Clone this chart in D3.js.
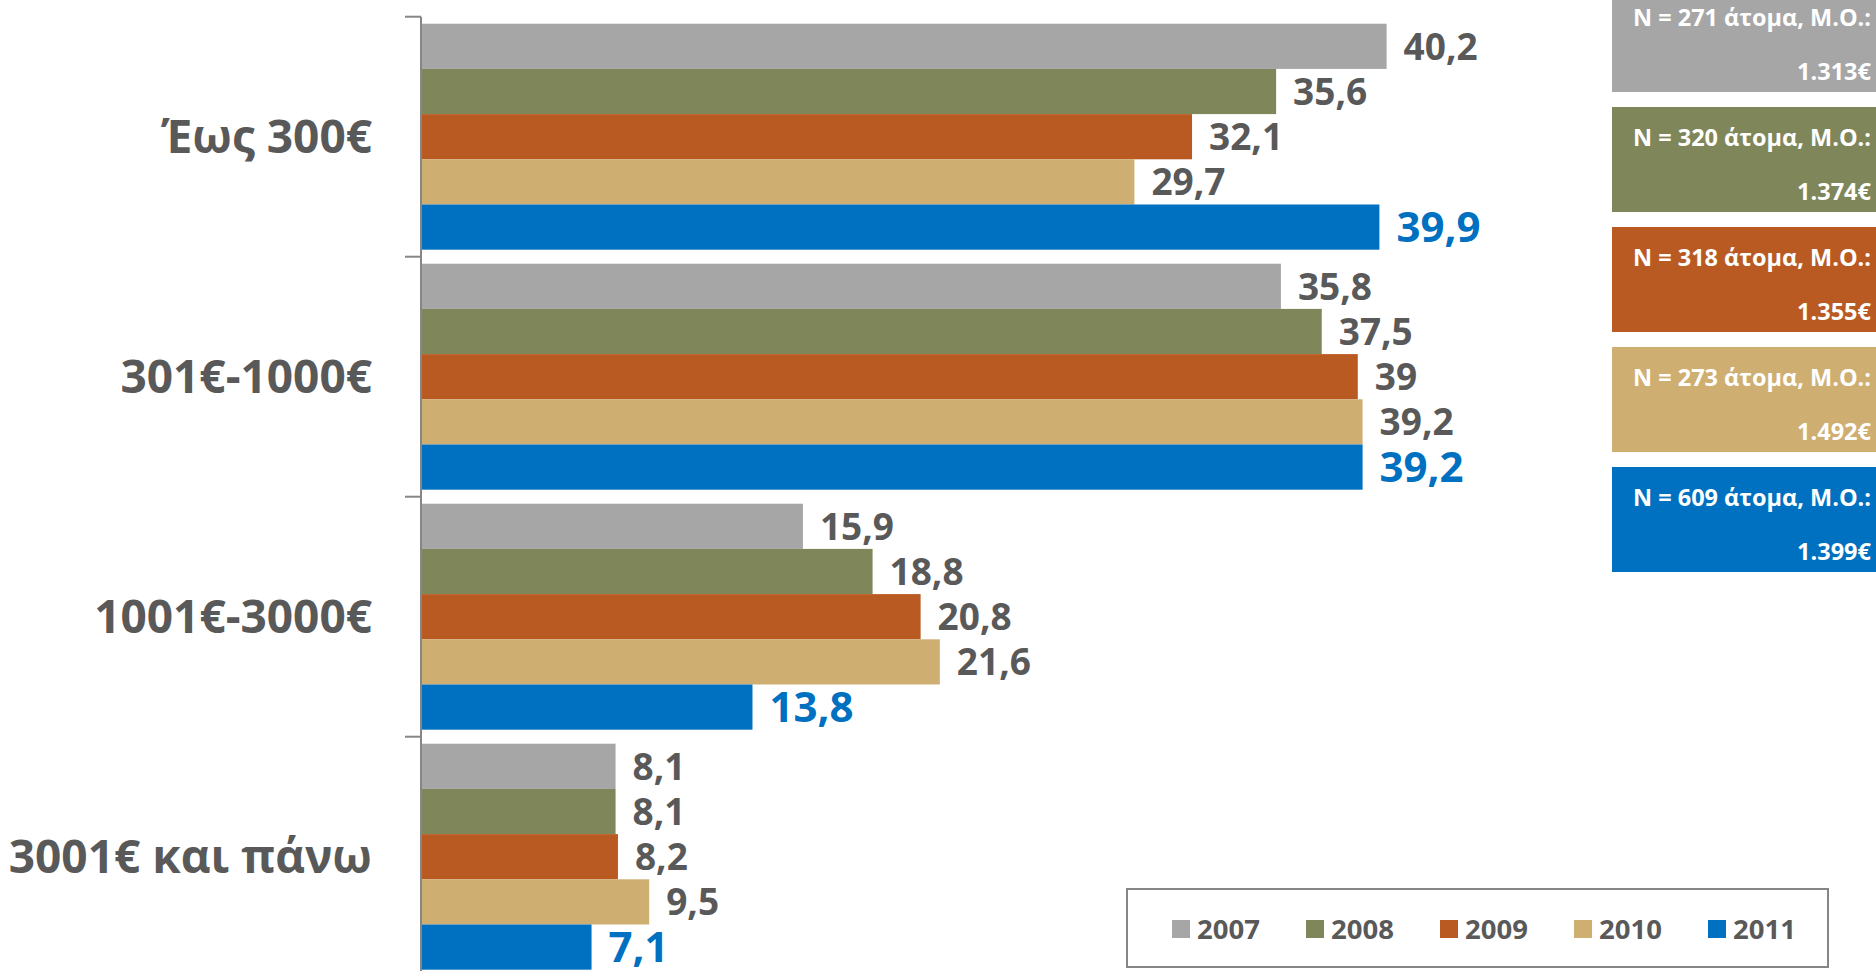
<!DOCTYPE html>
<html>
<head>
<meta charset="utf-8">
<script src="https://cdnjs.cloudflare.com/ajax/libs/d3/7.8.5/d3.min.js"></script>
<style>
  html, body { margin: 0; padding: 0; background: #fff; }
  #chart { width: 1876px; height: 971px; overflow: hidden; }
</style>
</head>
<body>
<div id="chart"></div>
<script>
var categories = ['Έως 300€', '301€-1000€', '1001€-3000€', '3001€ και πάνω'];
var years = ['2007', '2008', '2009', '2010', '2011'];
var values2007 = [40.2, 35.8, 15.9, 8.1];
var values2008 = [35.6, 37.5, 18.8, 8.1];
var values2009 = [32.1, 39, 20.8, 8.2];
var values2010 = [29.7, 39.2, 21.6, 9.5];
var values2011 = [39.9, 39.2, 13.8, 7.1];
var sampleSizes = [271, 320, 318, 273, 609];
var meanIncome = ['1.313€', '1.374€', '1.355€', '1.492€', '1.399€'];
var colors = ['#a6a6a6', '#7f865a', '#b95a22', '#cfae71', '#0070c0'];

(function () {
  'use strict';

  var width = 1876;
  var height = 971;
  var axisX = 421;
  var textGray = '#595959';
  var font = '"Open Sans", sans-serif';

  var series = [values2007, values2008, values2009, values2010, values2011];

  var svg = d3.select('#chart').append('svg')
    .attr('width', width)
    .attr('height', height);

  var x = d3.scaleLinear().domain([0, 50]).range([axisX, axisX + 50 * 24.02]);

  var y = d3.scaleBand().domain(categories).range([16.7, 16.7 + 4 * 240]).padding(0);

  var yInner = d3.scaleBand().domain(years).range([0, y.bandwidth()])
    .paddingInner(0).paddingOuter(0.155);

  var color = d3.scaleOrdinal().domain(years).range(colors);

  // bars + labels
  var groups = svg.append('g').selectAll('g.cat')
    .data(categories).enter().append('g')
    .attr('class', 'cat')
    .attr('transform', function (d) { return 'translate(0,' + y(d) + ')'; });

  groups.each(function (cat, ci) {
    var g = d3.select(this);
    var rows = years.map(function (yr, si) {
      return { year: yr, value: series[si][ci] };
    });

    g.selectAll('rect').data(rows).enter().append('rect')
      .attr('x', x(0))
      .attr('y', function (d) { return yInner(d.year); })
      .attr('width', function (d) { return x(d.value) - x(0); })
      .attr('height', yInner.bandwidth())
      .attr('fill', function (d) { return color(d.year); });

    g.selectAll('text.val').data(rows).enter().append('text')
      .attr('class', 'val')
      .attr('x', function (d) { return x(d.value) + 17; })
      .attr('y', function (d) {
        var big = d.year === '2011';
        return yInner(d.year) + yInner.bandwidth() / 2 + (big ? 15 : 13.5);
      })
      .attr('font-family', font)
      .attr('font-weight', 700)
      .attr('font-size', function (d) { return d.year === '2011' ? '42px' : '37px'; })
      .attr('fill', function (d) { return d.year === '2011' ? '#0070c0' : textGray; })
      .text(function (d) { return String(d.value).replace('.', ','); });
  });

  // category axis
  var axisG = svg.append('g');
  axisG.append('line')
    .attr('x1', axisX).attr('x2', axisX)
    .attr('y1', y.range()[0]).attr('y2', y.range()[1])
    .attr('stroke', '#868686').attr('stroke-width', 2);

  var tickYs = categories.map(function (c) { return y(c); }).concat([y.range()[1]]);
  axisG.selectAll('line.tick').data(tickYs).enter().append('line')
    .attr('class', 'tick')
    .attr('x1', axisX - 16).attr('x2', axisX)
    .attr('y1', function (d) { return d; }).attr('y2', function (d) { return d; })
    .attr('stroke', '#868686').attr('stroke-width', 2);

  axisG.selectAll('text.cat').data(categories).enter().append('text')
    .attr('class', 'cat')
    .attr('x', 372)
    .attr('y', function (d) { return y(d) + y.bandwidth() / 2 + 16; })
    .attr('text-anchor', 'end')
    .attr('font-family', font)
    .attr('font-weight', 700)
    .attr('font-size', '46px')
    .attr('fill', textGray)
    .text(function (d) { return d; });

  // info boxes on the right
  var boxes = svg.append('g').selectAll('g.box')
    .data(years).enter().append('g')
    .attr('class', 'box')
    .attr('transform', function (d, i) { return 'translate(1612,' + (-13 + i * 120) + ')'; });

  boxes.append('rect')
    .attr('width', width - 1612).attr('height', 105)
    .attr('fill', function (d) { return color(d); });

  boxes.append('text')
    .attr('x', 259).attr('y', 39)
    .attr('text-anchor', 'end')
    .attr('font-family', font).attr('font-weight', 700).attr('font-size', '23.5px')
    .attr('fill', '#fff')
    .text(function (d, i) { return 'N = ' + sampleSizes[i] + ' άτομα, Μ.Ο.:'; });

  boxes.append('text')
    .attr('x', 259).attr('y', 93)
    .attr('text-anchor', 'end')
    .attr('font-family', font).attr('font-weight', 700).attr('font-size', '23.5px')
    .attr('fill', '#fff')
    .text(function (d, i) { return meanIncome[i]; });

  // legend
  var legend = svg.append('g').attr('transform', 'translate(1127,889)');
  legend.append('rect')
    .attr('width', 701).attr('height', 78)
    .attr('fill', '#fff')
    .attr('stroke', '#868686').attr('stroke-width', 2);

  var item = legend.selectAll('g.item').data(years).enter().append('g')
    .attr('class', 'item')
    .attr('transform', function (d, i) { return 'translate(' + (45 + i * 134) + ',0)'; });

  item.append('rect')
    .attr('y', 31).attr('width', 18).attr('height', 18)
    .attr('fill', function (d) { return color(d); });

  item.append('text')
    .attr('x', 25).attr('y', 50)
    .attr('font-family', font).attr('font-weight', 700).attr('font-size', '27.5px')
    .attr('fill', textGray)
    .text(function (d) { return d; });
})();
</script>
</body>
</html>
